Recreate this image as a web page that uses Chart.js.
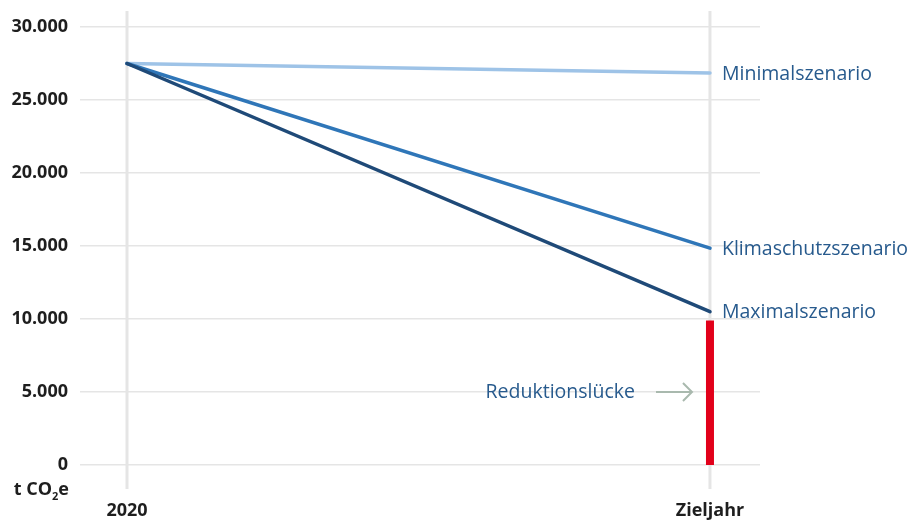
<!DOCTYPE html>
<html lang="de">
<head>
<meta charset="utf-8">
<title>Szenarien t CO2e</title>
<script src="https://cdn.jsdelivr.net/npm/chart.js@4.4.1/dist/chart.umd.min.js"></script>
<style>
  html, body { margin: 0; padding: 0; background: #ffffff; }
  #wrap { width: 909px; height: 520px; }
</style>
</head>
<body>
<div id="wrap"><canvas id="c" width="909" height="520"></canvas></div>
<script>
// Zeitpunkte (x = 0: Ausgangsjahr, x = 1: Zieljahr)
const xLabels = ['2020', 'Zieljahr'];
const xValues = [0, 1];

// Emissionen in t CO2e je Szenario
const scenarioNames = ['Minimalszenario', 'Klimaschutzszenario', 'Maximalszenario'];
const minimal = [27500, 26850];
const klimaschutz = [27500, 14850];
const maximal = [27500, 10500];

// Reduktionslücke im Zieljahr (von 0 bis zum Wert)
const gapLabel = 'Reduktionslücke';
const gap = [0, 9900];
const gapLabelLevel = 5000;

// Achse
const yTicks = [0, 5000, 10000, 15000, 20000, 25000, 30000];
const unitLabel = ['t CO', '2', 'e'];

const FONT = '"Open Sans", "DejaVu Sans", sans-serif';
const TEXT_DARK = '#1e1e1e';
const TEXT_BLUE = '#275a8d';
const GRID = '#e5e5e5';

const fmt = v => v.toLocaleString('de-DE');
const pts = arr => arr.map((y, i) => ({ x: xValues[i], y }));

// Vertikale Hilfslinien für die beiden Zeitpunkte, über die Zeichenfläche hinaus
const verticalGuides = {
  id: 'verticalGuides',
  beforeDatasetsDraw(chart) {
    const { ctx, scales: { x }, chartArea } = chart;
    ctx.save();
    ctx.strokeStyle = GRID;
    ctx.lineWidth = 3;
    xValues.forEach(v => {
      const px = x.getPixelForValue(v);
      ctx.beginPath();
      ctx.moveTo(px, chartArea.top - 16);
      ctx.lineTo(px, chartArea.bottom + 24);
      ctx.stroke();
    });
    ctx.restore();
  }
};

// Beschriftungen an den Linienenden, Reduktionslücke mit Pfeil, Einheit
const annotations = {
  id: 'annotations',
  afterDatasetsDraw(chart) {
    const { ctx, scales: { x, y }, chartArea } = chart;
    ctx.save();
    ctx.font = '19.5px ' + FONT;
    ctx.fillStyle = TEXT_BLUE;
    ctx.textBaseline = 'middle';
    ctx.textAlign = 'left';
    for (let i = 0; i < scenarioNames.length; i++) {
      const meta = chart.getDatasetMeta(i);
      const last = meta.data[meta.data.length - 1];
      ctx.fillText(scenarioNames[i], last.x + 12, last.y + 1);
    }

    // Reduktionslücke
    const xEnd = x.getPixelForValue(xValues[1]);
    const yMid = y.getPixelForValue(gapLabelLevel);
    ctx.textAlign = 'right';
    ctx.fillText(gapLabel, xEnd - 75, yMid);
    ctx.strokeStyle = '#a9b9ae';
    ctx.lineWidth = 2;
    ctx.beginPath();
    ctx.moveTo(xEnd - 54, yMid);
    ctx.lineTo(xEnd - 18, yMid);
    ctx.moveTo(xEnd - 27, yMid - 9);
    ctx.lineTo(xEnd - 18, yMid);
    ctx.lineTo(xEnd - 27, yMid + 9);
    ctx.stroke();

    // Einheit unter der Y-Achse
    ctx.fillStyle = TEXT_DARK;
    ctx.textAlign = 'left';
    ctx.textBaseline = 'alphabetic';
    const bigFont = 'bold 18px ' + FONT;
    const subFont = 'bold 11px ' + FONT;
    ctx.font = bigFont;
    const w1 = ctx.measureText(unitLabel[0]).width;
    const w3 = ctx.measureText(unitLabel[2]).width;
    ctx.font = subFont;
    const w2 = ctx.measureText(unitLabel[1]).width;
    const right = chartArea.left - 11;
    let px = right - (w1 + w2 + w3);
    const base = chartArea.bottom + 30;
    ctx.font = bigFont;
    ctx.fillText(unitLabel[0], px, base);
    px += w1;
    ctx.font = subFont;
    ctx.fillText(unitLabel[1], px, base + 5);
    px += w2;
    ctx.font = bigFont;
    ctx.fillText(unitLabel[2], px, base);
    ctx.restore();
  }
};

const lineStyle = (color) => ({
  borderColor: color,
  backgroundColor: color,
  borderWidth: 3.5,
  pointRadius: 0,
  borderCapStyle: 'round',
  fill: false,
  tension: 0
});

new Chart(document.getElementById('c'), {
  type: 'line',
  data: {
    datasets: [
      { label: scenarioNames[0], data: pts(minimal), ...lineStyle('#9ec3e7'), order: 3 },
      { label: scenarioNames[1], data: pts(klimaschutz), ...lineStyle('#2f76b8'), order: 2 },
      { label: scenarioNames[2], data: pts(maximal), ...lineStyle('#1f4a78'), order: 1 },
      {
        label: gapLabel,
        data: gap.map(v => ({ x: xValues[1], y: v })),
        borderColor: '#e2001a',
        borderWidth: 8,
        borderCapStyle: 'butt',
        pointRadius: 0,
        order: 4
      }
    ]
  },
  options: {
    responsive: false,
    animation: false,
    devicePixelRatio: 1,
    layout: { padding: { top: 27, right: 149, bottom: 0, left: 0 } },
    plugins: {
      legend: { display: false },
      tooltip: { enabled: false }
    },
    scales: {
      x: {
        type: 'linear',
        min: -0.0806,
        max: 1.0858,
        afterBuildTicks(scale) { scale.ticks = xValues.map(v => ({ value: v })); },
        afterFit(scale) { scale.height = 55; },
        grid: { display: false, drawTicks: false },
        border: { display: false },
        ticks: {
          padding: 35,
          maxRotation: 0,
          autoSkip: false,
          color: TEXT_DARK,
          font: { family: FONT, size: 18, weight: 'bold' },
          callback: (v) => xLabels[xValues.indexOf(v)] ?? ''
        }
      },
      y: {
        min: 0,
        max: 30000,
        afterBuildTicks(scale) { scale.ticks = yTicks.map(v => ({ value: v })); },
        afterFit(scale) { scale.width = 80; },
        grid: { color: GRID, lineWidth: 1.5, drawTicks: false },
        border: { display: false },
        ticks: {
          padding: 12,
          color: TEXT_DARK,
          font: { family: FONT, size: 18, weight: 'bold' },
          callback: (v) => fmt(v)
        }
      }
    }
  },
  plugins: [verticalGuides, annotations]
});
</script>
</body>
</html>
